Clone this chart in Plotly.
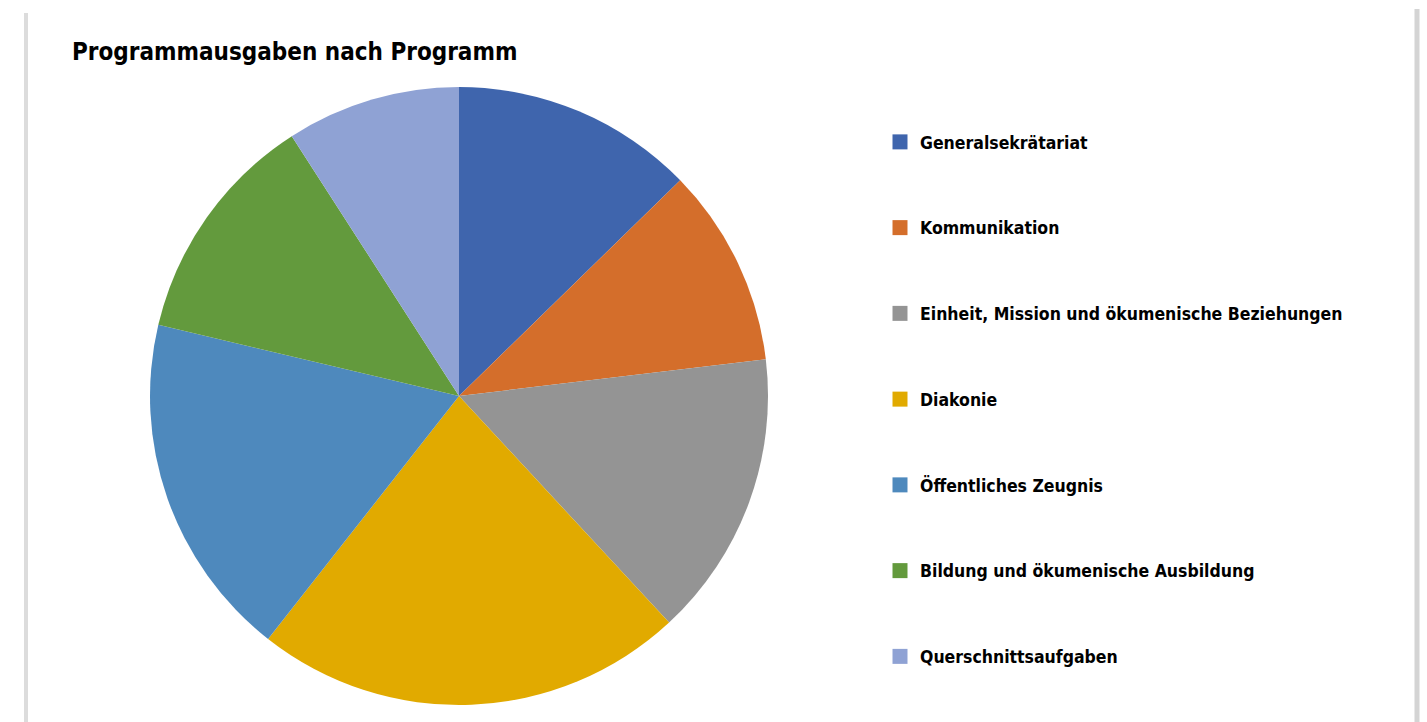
import plotly.graph_objects as go

categories = [
    "Generalsekrätariat",
    "Kommunikation",
    "Einheit, Mission und ökumenische Beziehungen",
    "Diakonie",
    "Öffentliches Zeugnis",
    "Bildung und ökumenische Ausbildung",
    "Querschnittsaufgaben",
]
shares = [12.7, 10.4, 15.0, 22.5, 18.1, 12.2, 9.1]
colors = ["#3F65AD", "#D46E2B", "#949494", "#E1AA00", "#4E89BD", "#639A3D", "#8FA2D4"]

W, H = 1427, 722
FONT = "DejaVu Sans Condensed"

fig = go.Figure()
fig.add_trace(go.Pie(
    labels=categories,
    values=shares,
    marker=dict(colors=colors, line=dict(width=0)),
    sort=False,
    direction="clockwise",
    rotation=0,
    textinfo="none",
    showlegend=False,
    domain=dict(x=[150 / W, 768 / W], y=[17 / H, 635 / H]),
))

# legend entries (one group per category to get Excel-like spacing)
for i, (c, col) in enumerate(zip(categories, colors)):
    fig.add_trace(go.Scatter(
        x=[None], y=[None], mode="markers", name=c,
        marker=dict(symbol="square", size=15, color=col),
        legendgroup=f"g{i}", hoverinfo="skip",
    ))

fig.update_layout(
    width=W, height=H,
    margin=dict(l=0, r=0, t=0, b=0),
    paper_bgcolor="white", plot_bgcolor="white",
    xaxis=dict(visible=False), yaxis=dict(visible=False),
    title=dict(
        text="Programmausgaben nach Programm",
        x=72 / W, xanchor="left", xref="paper",
        y=1 - 52 / H, yanchor="middle", yref="container",
        font=dict(family=FONT, size=24, color="#000000", weight="bold"),
    ),
    legend=dict(
        x=880 / W, xanchor="left", y=1 - 124 / H, yanchor="top",
        font=dict(family=FONT, size=17.5, color="#000000", weight="bold"),
        tracegroupgap=60, bgcolor="rgba(0,0,0,0)",
    ),
    shapes=[
        dict(type="line", xref="paper", yref="paper", x0=26 / W, x1=26 / W,
             y0=0, y1=1 - 13 / H, line=dict(color="#DCDCDC", width=4)),
        dict(type="line", xref="paper", yref="paper", x0=1417 / W, x1=1417 / W,
             y0=0, y1=1 - 9 / H, line=dict(color="#D4D4D4", width=5)),
    ],
)

fig.write_html("out.html", config={"displayModeBar": False},
               post_script="document.body.style.margin='0';")
